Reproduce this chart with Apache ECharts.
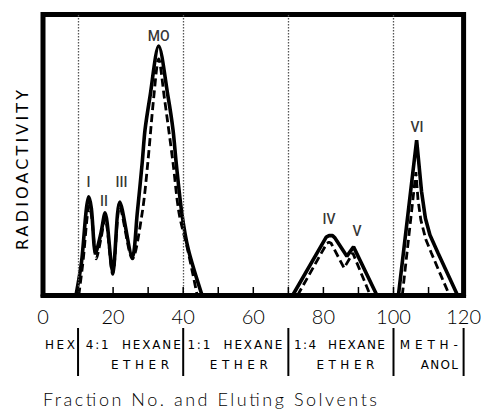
<!DOCTYPE html>
<html>
<head>
<meta charset="utf-8">
<script src="https://cdn.jsdelivr.net/npm/echarts@6/dist/echarts.min.js"></script>
<style>
html,body{margin:0;padding:0;background:#fff;}
#c{width:484px;height:410px;}
</style>
</head>
<body>
<div id="c"></div>
<script>
// ---- data (fraction number, relative radioactivity 0-100) ----
const solidFractions1 = [9.4, 11, 12.3, 13, 13.8, 15, 16.5, 17.7, 19.9, 21.9, 25.5, 26.9, 28.3, 29.1, 30.5, 33, 35.7, 37.1, 38, 39.6, 41.5, 45.4];
const solidValues1    = [0, 12, 30, 35.1, 31, 15.1, 22, 29.4, 8.4, 33.3, 13.7, 29.4, 47.2, 58.9, 70.6, 88.8, 70.6, 58.9, 47.2, 29.4, 16.2, 0];
const dashFractions1  = [10.2, 11.5, 12.6, 13.2, 14, 15.2, 16.5, 17.7, 19.9, 21.9, 25.5, 28.3, 29.9, 31.6, 33, 34.6, 37.1, 38.8, 41.3, 44];
const dashValues1     = [0, 13, 28, 32, 27, 13, 20, 27.5, 7.5, 31.5, 13, 29.4, 47.2, 70.6, 84.2, 70.6, 47.2, 29.4, 16.2, 0];

const solidFractions2 = [71.2, 80.8, 81.6, 82.6, 83.2, 86.7, 88.6, 95.3];
const solidValues2    = [0, 20.8, 21.3, 21.3, 20.6, 14, 17.3, 0];
const dashFractions2  = [72.6, 81.0, 81.6, 82.2, 85.9, 88.4, 93.4];
const dashValues2     = [0, 18.6, 19, 18.6, 9.8, 15.1, 0];

const solidFractions3 = [101.4, 106.6, 108.0, 109.1, 110.4, 112.7, 115.5, 118.3];
const solidValues3    = [0, 55.3, 37, 27.5, 21.5, 15.1, 7.6, 0];
const dashFractions3  = [102.5, 106.4, 107.0, 107.8, 109.2, 110.8, 113.4, 116];
const dashValues3     = [0, 43.9, 34, 26.9, 20, 15.1, 7.5, 0];

const solventBoundaries = [10, 40, 70, 100];
const solventTickMarks  = [10, 40, 70, 100, 120];
const solventRow1 = ['HEX', '4:1  HEXANE', '1:1  HEXANE', '1:4  HEXANE', 'METH-'];
const solventRow1Left = [0.55, 12.2, 41.2, 71.6, 101.8];
const solventRow2 = ['ETHER', 'ETHER', 'ETHER', 'ANOL'];
const solventRow2Left = [19.4, 47.6, 78.0, 107.8];

const peakNames  = ['I', 'II', 'III', 'MO', 'IV', 'V', 'VI'];
const peakLabelX = [13.0, 17.4, 22.4, 33.0, 81.6, 89.6, 106.7];
const peakLabelY = [40.5, 33.5, 40.5, 92.5, 27.2, 23, 60];

const xTickLabels = ['0', '20', '40', '60', '80', '100', '120'];
const xTickMarks  = [10, 20, 30, 40, 50, 60, 70, 80, 90, 100, 110];

const yTitle = 'RADIOACTIVITY';
const xTitle = 'Fraction No. and Eluting Solvents';

// text widths (px) used to reproduce the wide letter spacing of the original
const textWidths = {
  'HEX':30, '4:1  HEXANE':95, '1:1  HEXANE':95, '1:4  HEXANE':91, 'METH-':58,
  'ETHER':58, 'ANOL':37, 'RADIOACTIVITY':160, 'Fraction No. and Eluting Solvents':334
};

function pairs(xs, ys){ return xs.map((x,i)=>[x, ys[i]]); }

const chart = echarts.init(document.getElementById('c'), null, {renderer:'svg'});

const solidStyle = {color:'#000', width:3.6, type:'solid'};
const dashStyle  = {color:'#000', width:2.8, type:[8,4]};

function lineSeries(data, style, smooth){
  return {type:'line', data:data, showSymbol:false, symbol:'none', smooth:smooth,
    lineStyle:style, silent:true, animation:false, z:3};
}

const series = [
  lineSeries(pairs(solidFractions1, solidValues1), solidStyle, 0.3),
  lineSeries(pairs(dashFractions1, dashValues1), dashStyle, 0.3),
  lineSeries(pairs(solidFractions2, solidValues2), solidStyle, false),
  lineSeries(pairs(dashFractions2, dashValues2), dashStyle, false),
  lineSeries(pairs(solidFractions3, solidValues3), solidStyle, false),
  lineSeries(pairs(dashFractions3, dashValues3), dashStyle, false),
  {type:'scatter', symbolSize:0, animation:false, silent:true,
   data: peakNames.map((n,i)=>({name:n, value:[peakLabelX[i], peakLabelY[i]]})),
   label:{show:true, position:'inside', formatter:p=>p.name, color:'#000',
     fontFamily:'Roboto', fontSize:14, fontWeight:500}},
  {type:'line', data:[], animation:false, silent:true,
   markLine:{symbol:'none', silent:true, animation:false, label:{show:false},
     lineStyle:{color:'#555', width:1.3, type:[1.5,1.5]},
     data: solventBoundaries.map(v=>({xAxis:v}))}}
];

const option = {
  animation:false,
  grid:{left:43, right:7, top:14.5, bottom:114.5, show:true, borderColor:'#000', borderWidth:5, backgroundColor:'transparent'},
  xAxis:{type:'value', min:0, max:120, interval:20, z:5,
    axisLine:{show:true, lineStyle:{color:'#000', width:5}},
    axisTick:{show:false},
    splitLine:{show:false},
    axisLabel:{margin:10, color:'#000', fontFamily:'Lato', fontWeight:300, fontSize:20,
      formatter:(v)=>xTickLabels[Math.round(v/20)]}},
  yAxis:{type:'value', min:0, max:100, show:true,
    axisLine:{show:false}, axisTick:{show:false}, axisLabel:{show:false}, splitLine:{show:false}},
  series:series
};
chart.setOption(option);

// annotations positioned by the x axis scale
const g = [];
const px = v => chart.convertToPixel({xAxisIndex:0}, v);
const axisY = chart.convertToPixel({yAxisIndex:0}, 0);
xTickMarks.forEach(v=>{
  g.push({type:'line', z:10, shape:{x1:px(v), y1:axisY-2.5, x2:px(v), y2:axisY-8.5}, style:{stroke:'#000', lineWidth:1.5}});
});
solventTickMarks.forEach(v=>{
  g.push({type:'line', shape:{x1:px(v), y1:328, x2:px(v), y2:376}, style:{stroke:'#000', lineWidth:2}});
});
const solventFont = '12px "DejaVu Sans"';
solventRow1.forEach((t,i)=>{
  g.push({type:'text', x:px(solventRow1Left[i]), y:345, style:{text:t, fill:'#000', font:solventFont, textAlign:'left', textVerticalAlign:'middle'}});
});
solventRow2.forEach((t,i)=>{
  g.push({type:'text', x:px(solventRow2Left[i]), y:365, style:{text:t, fill:'#000', font:solventFont, textAlign:'left', textVerticalAlign:'middle'}});
});
g.push({type:'text', x:22, y:170, rotation:Math.PI/2, style:{text:yTitle, fill:'#000', font:'16px "DejaVu Sans"', textAlign:'center', textVerticalAlign:'middle'}});
g.push({type:'text', x:43, y:399, style:{text:xTitle, fill:'#000', font:'300 18px "Lato"', textAlign:'left', textVerticalAlign:'middle'}});
chart.setOption({graphic:g});

// widen letter spacing of the annotation texts
function spaceTexts(){
  document.querySelectorAll('#c svg text').forEach(el=>{
    const w = textWidths[el.textContent];
    if (w) { el.setAttribute('textLength', w); el.setAttribute('lengthAdjust', 'spacing'); }
  });
}
spaceTexts();
setTimeout(spaceTexts, 50);
</script>
</body>
</html>
